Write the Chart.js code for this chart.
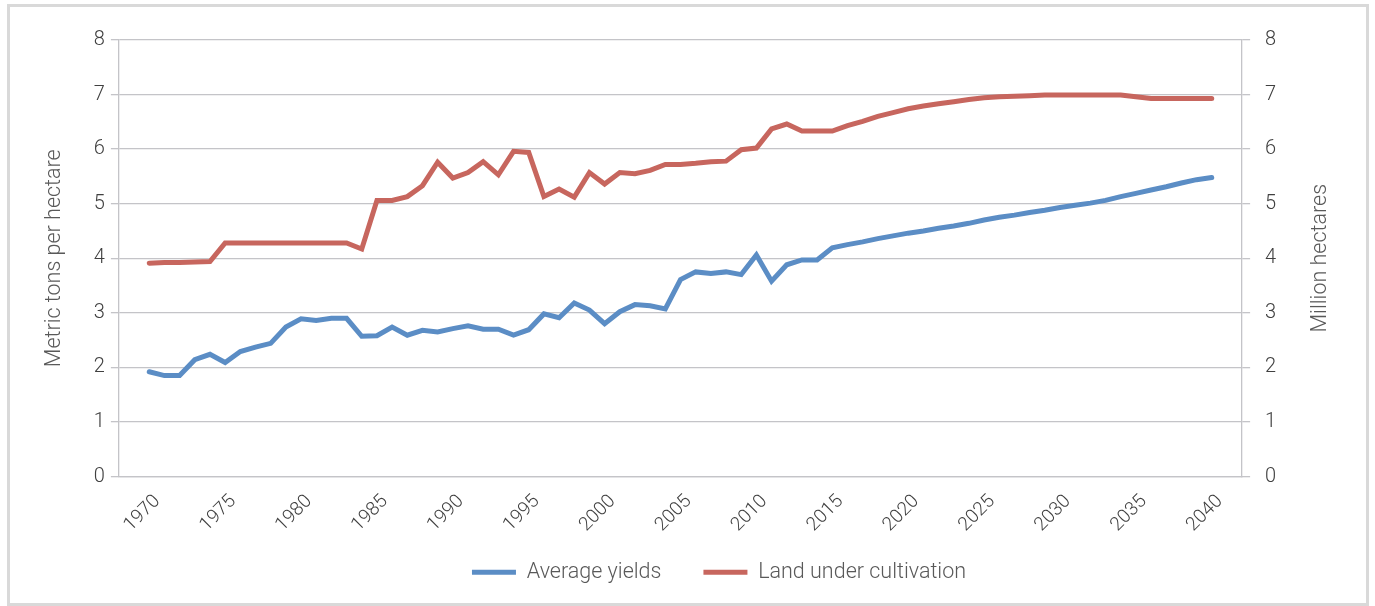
<!DOCTYPE html>
<html>
<head>
<meta charset="utf-8">
<title>Average yields and land under cultivation</title>
<script src="https://cdn.jsdelivr.net/npm/chart.js@4.4.1/dist/chart.umd.min.js"></script>
<style>
  html, body { margin: 0; padding: 0; background: #fff; }
  #wrap { position: relative; width: 1375px; height: 606px; }
  #frame { position: absolute; left: 7px; top: 4px; width: 1362px; height: 602px; border: 3px solid #d9d9d9; box-sizing: border-box; pointer-events: none; }
  canvas { position: absolute; left: 0; top: 0; }
</style>
</head>
<body>
<div id="wrap">
  <canvas id="chart" width="1375" height="606"></canvas>
  <div id="frame"></div>
</div>
<script>
// years on the x axis
const years = [
  1970, 1971, 1972, 1973, 1974, 1975, 1976, 1977, 1978, 1979,
  1980, 1981, 1982, 1983, 1984, 1985, 1986, 1987, 1988, 1989,
  1990, 1991, 1992, 1993, 1994, 1995, 1996, 1997, 1998, 1999,
  2000, 2001, 2002, 2003, 2004, 2005, 2006, 2007, 2008, 2009,
  2010, 2011, 2012, 2013, 2014, 2015, 2016, 2017, 2018, 2019,
  2020, 2021, 2022, 2023, 2024, 2025, 2026, 2027, 2028, 2029,
  2030, 2031, 2032, 2033, 2034, 2035, 2036, 2037, 2038, 2039,
  2040
];

// metric tons per hectare (left axis)
const averageYields = [
  1.92, 1.85, 1.85, 2.14, 2.24, 2.09, 2.29, 2.37, 2.44, 2.74,
  2.89, 2.86, 2.90, 2.90, 2.57, 2.58, 2.74, 2.59, 2.68, 2.65,
  2.71, 2.76, 2.70, 2.70, 2.59, 2.69, 2.98, 2.91, 3.18, 3.05,
  2.80, 3.02, 3.15, 3.13, 3.07, 3.61, 3.75, 3.72, 3.75, 3.70,
  4.06, 3.58, 3.88, 3.97, 3.97, 4.19, 4.25, 4.30, 4.36, 4.41,
  4.46, 4.50, 4.55, 4.59, 4.64, 4.70, 4.75, 4.79, 4.84, 4.88,
  4.93, 4.97, 5.01, 5.06, 5.13, 5.19, 5.25, 5.31, 5.38, 5.44,
  5.48
];

// million hectares (right axis)
const landUnderCultivation = [
  3.91, 3.92, 3.92, 3.93, 3.94, 4.28, 4.28, 4.28, 4.28, 4.28,
  4.28, 4.28, 4.28, 4.28, 4.17, 5.06, 5.06, 5.13, 5.33, 5.76,
  5.47, 5.57, 5.77, 5.53, 5.96, 5.94, 5.13, 5.27, 5.12, 5.57,
  5.36, 5.57, 5.55, 5.61, 5.72, 5.72, 5.74, 5.77, 5.78, 5.99,
  6.02, 6.37, 6.46, 6.33, 6.33, 6.33, 6.43, 6.51, 6.60, 6.67,
  6.74, 6.79, 6.83, 6.87, 6.91, 6.94, 6.96, 6.97, 6.98, 6.99,
  6.99, 6.99, 6.99, 6.99, 6.99, 6.96, 6.93, 6.93, 6.93, 6.93,
  6.93
];

const xTickYears = [1970, 1975, 1980, 1985, 1990, 1995, 2000, 2005, 2010, 2015, 2020, 2025, 2030, 2035, 2040];
const yTicks = [0, 1, 2, 3, 4, 5, 6, 7, 8];

const FONT = "Roboto, 'Liberation Sans', Arial, sans-serif";
const BLUE = '#5b8dc5';
const RED = '#c7665e';
const GRID = '#c4c4c8';
const TICK_COLOR = '#404040';
const TITLE_COLOR = '#595959';
const Y2_TITLE = 'Million hectares';
const Y2_TITLE_PAD = 4;
const LEGEND_DX = 35;
const LEGEND_DY = -17;

Chart.defaults.font.family = FONT;
Chart.defaults.font.weight = '300';

const tweaks = {
  id: 'tweaks',
  afterLayout(chart) {
    // legend sits a little right of centre and tucks under the year labels
    const lg = chart.legend;
    lg.left += LEGEND_DX;
    lg.right += LEGEND_DX;
    lg.top += LEGEND_DY;
    lg.bottom += LEGEND_DY;
  },
  afterDraw(chart) {
    // the right title reads bottom-to-top like the left one
    const s = chart.scales.y2;
    const ctx = chart.ctx;
    const area = chart.chartArea;
    ctx.save();
    ctx.font = '300 21.5px ' + FONT;
    ctx.fillStyle = TITLE_COLOR;
    ctx.textAlign = 'center';
    ctx.textBaseline = 'middle';
    ctx.translate(s.right - Y2_TITLE_PAD - 12.9, (area.top + area.bottom) / 2);
    ctx.rotate(-Math.PI / 2);
    ctx.fillText(Y2_TITLE, 0, 0);
    ctx.restore();
  }
};

const setYTicks = scale => { scale.ticks = yTicks.map(v => ({ value: v })); };

new Chart(document.getElementById('chart'), {
  type: 'line',
  data: {
    datasets: [
      {
        label: 'Average yields',
        data: years.map((y, i) => ({ x: y, y: averageYields[i] })),
        yAxisID: 'y',
        borderColor: BLUE,
        backgroundColor: BLUE,
        borderWidth: 5,
        borderCapStyle: 'round',
        pointRadius: 0,
        tension: 0
      },
      {
        label: 'Land under cultivation',
        data: years.map((y, i) => ({ x: y, y: landUnderCultivation[i] })),
        yAxisID: 'y2',
        borderColor: RED,
        backgroundColor: RED,
        borderWidth: 5,
        borderCapStyle: 'round',
        pointRadius: 0,
        tension: 0
      }
    ]
  },
  options: {
    responsive: false,
    animation: false,
    layout: { padding: { top: 40, left: 30, right: 37, bottom: -4 } },
    scales: {
      x: {
        type: 'linear',
        min: 1968,
        max: 2042,
        afterBuildTicks: scale => { scale.ticks = xTickYears.map(v => ({ value: v })); },
        afterFit: scale => { scale.height = 60; },
        grid: { display: false },
        border: { display: true, color: GRID, width: 1.3 },
        ticks: {
          autoSkip: false,
          minRotation: 45,
          maxRotation: 45,
          padding: 6,
          labelOffset: 8,
          color: TICK_COLOR,
          font: { size: 19 },
          callback: v => String(v)
        }
      },
      y: {
        position: 'left',
        min: 0,
        max: 8,
        afterBuildTicks: setYTicks,
        grid: { color: GRID, lineWidth: 1.3, tickLength: 8 },
        border: { display: true, color: GRID, width: 1.3 },
        ticks: { padding: 6, color: TICK_COLOR, font: { size: 20 } },
        title: {
          display: true,
          text: 'Metric tons per hectare',
          color: TITLE_COLOR,
          font: { size: 21.5 },
          padding: { top: 12, bottom: 20 }
        }
      },
      y2: {
        position: 'right',
        min: 0,
        max: 8,
        afterBuildTicks: setYTicks,
        grid: { drawOnChartArea: false, color: GRID, lineWidth: 1.3, tickLength: 8 },
        border: { display: true, color: GRID, width: 1.3 },
        ticks: { padding: 15, color: TICK_COLOR, font: { size: 20 } },
        title: {
          display: true,
          text: Y2_TITLE,
          color: 'rgba(0,0,0,0)',
          font: { size: 21.5 },
          padding: { top: Y2_TITLE_PAD, bottom: 17 }
        }
      }
    },
    plugins: {
      legend: {
        position: 'bottom',
        labels: {
          usePointStyle: true,
          pointStyle: 'line',
          pointStyleWidth: 44,
          padding: 42,
          color: TITLE_COLOR,
          font: { size: 21.5 }
        }
      },
      tooltip: { enabled: false }
    }
  },
  plugins: [tweaks]
});
</script>
</body>
</html>
